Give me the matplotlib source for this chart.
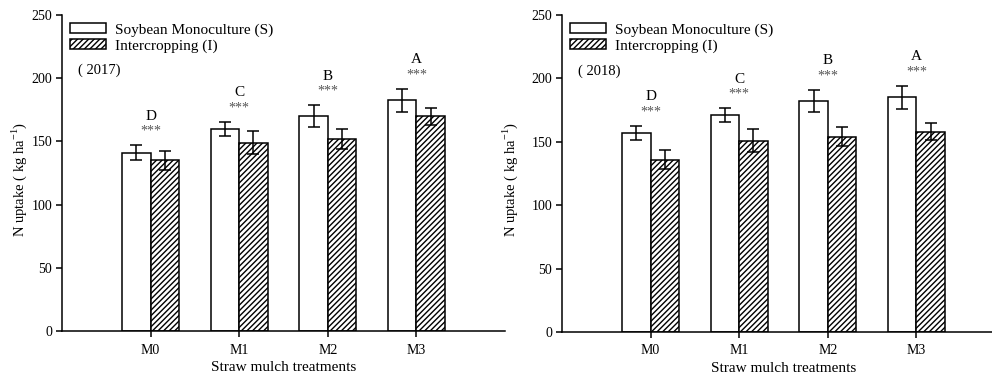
import matplotlib
matplotlib.use("Agg")
import matplotlib.pyplot as plt
import numpy as np

plt.rcParams['font.family'] = ['Liberation Serif', 'DejaVu Serif']
plt.rcParams['hatch.linewidth'] = 1.0
plt.rcParams['mathtext.fontset'] = 'custom'
plt.rcParams['mathtext.rm'] = 'Liberation Serif'

categories = ['M0', 'M1', 'M2', 'M3']
letters = ['D', 'C', 'B', 'A']
years = ['2017', '2018']

s_2017 = [141, 160, 170, 182.5]
s_err_2017 = [5.8, 5.4, 8.7, 9.0]
i_2017 = [135, 149, 152, 170]
i_err_2017 = [7.3, 9.2, 7.8, 6.8]

s_2018 = [157, 171, 182, 185]
s_err_2018 = [5.8, 5.3, 8.8, 9.0]
i_2018 = [136, 151, 154, 158]
i_err_2018 = [7.2, 9.3, 7.6, 6.7]

data = [(s_2017, s_err_2017, i_2017, i_err_2017),
        (s_2018, s_err_2018, i_2018, i_err_2018)]

fig = plt.figure(figsize=(9.92, 3.76), dpi=100)
axes_pos = [[62/992, 45/376, 443/992, 316/376],
            [562/992, 44/376, 443/992, 317/376]]
ylabel_x = [-0.075, -0.095]

x = np.arange(len(categories))
w = 0.32
fs = 9.5
for k, (s, se, iv, ie) in enumerate(data):
    ax = fig.add_axes(axes_pos[k])
    ekw = dict(elinewidth=1.1, capthick=1.1, ecolor='black')
    ax.bar(x - w/2, s, w, yerr=se, color='white', edgecolor='black',
           linewidth=1.1, capsize=4, error_kw=ekw, label='Soybean Monoculture (S)')
    ax.bar(x + w/2, iv, w, yerr=ie, color='white', edgecolor='black',
           hatch='//////', linewidth=1.1, capsize=4, error_kw=ekw, label='Intercropping (I)')
    for j in range(len(categories)):
        top = s[j] + se[j]
        ax.text(x[j], top + 11, '***', ha='center', va='center', fontsize=fs+0.5, color='#555555')
        ax.text(x[j], top + 23, letters[j], ha='center', va='center', fontsize=fs+1.5)
    ax.set_xlim(-1, 4)
    ax.set_ylim(0, 250)
    ax.set_yticks([0, 50, 100, 150, 200, 250])
    ax.set_xticks(x)
    ax.set_xticklabels(categories)
    for sp in ['top', 'right']:
        ax.spines[sp].set_visible(False)
    for sp in ['left', 'bottom']:
        ax.spines[sp].set_linewidth(1.1)
    ax.tick_params(axis='both', labelsize=fs+0.5, width=1.1, length=4, direction='out', pad=3)
    ax.tick_params(axis='x', pad=5)
    ax.set_xlabel('Straw mulch treatments', fontsize=fs+1.5, labelpad=3)
    ax.set_ylabel('N uptake ( kg ha$^{-1}$)', fontsize=fs+1)
    ax.yaxis.set_label_coords(ylabel_x[k], 0.48)
    ax.text(-0.82, 206, '( %s)' % years[k], fontsize=fs+1, va='center', ha='left')
    ax.legend(loc='upper left', bbox_to_anchor=(0.0, 1.0), frameon=False,
              fontsize=fs+1.5, handlelength=2.3, handleheight=0.6,
              borderaxespad=0.15, labelspacing=0.15, handletextpad=0.6)

fig.savefig('out.png', dpi=100)
